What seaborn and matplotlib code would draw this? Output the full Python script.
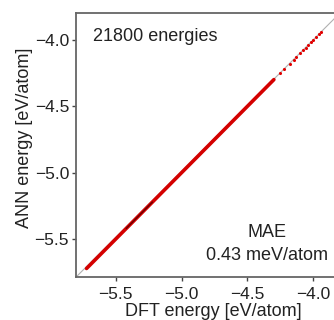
import matplotlib
matplotlib.use("Agg")
import matplotlib.pyplot as plt
import pandas as pd
import seaborn as sns

# energies (eV/atom); dense run then sparse tail
dft_energy = [
    -5.72, -5.70, -5.68, -5.66, -5.64, -5.62, -5.60, -5.58, -5.56, -5.54,
    -5.52, -5.50, -5.48, -5.46, -5.44, -5.42, -5.40, -5.38, -5.36, -5.34,
    -5.32, -5.30, -5.28, -5.26, -5.24, -5.22, -5.20, -5.18, -5.16, -5.14,
    -5.12, -5.10, -5.08, -5.06, -5.04, -5.02, -5.00, -4.98, -4.96, -4.94,
    -4.92, -4.90, -4.88, -4.86, -4.84, -4.82, -4.80, -4.78, -4.76, -4.74,
    -4.72, -4.70, -4.68, -4.66, -4.64, -4.62, -4.60, -4.58, -4.56, -4.54,
    -4.52, -4.50, -4.48, -4.46, -4.44, -4.42, -4.40, -4.38, -4.36, -4.34,
    -4.32, -4.30, -4.25, -4.22, -4.18, -4.15, -4.13, -4.10, -4.08, -4.06,
    -4.04, -4.02, -4.00, -3.98, -3.96, -3.94,
]
ann_energy = [
    -5.72, -5.70, -5.68, -5.66, -5.64, -5.62, -5.60, -5.58, -5.56, -5.54,
    -5.52, -5.50, -5.48, -5.46, -5.44, -5.42, -5.40, -5.38, -5.36, -5.34,
    -5.32, -5.30, -5.28, -5.26, -5.24, -5.22, -5.20, -5.18, -5.16, -5.14,
    -5.12, -5.10, -5.08, -5.06, -5.04, -5.02, -5.00, -4.98, -4.96, -4.94,
    -4.92, -4.90, -4.88, -4.86, -4.84, -4.82, -4.80, -4.78, -4.76, -4.74,
    -4.72, -4.70, -4.68, -4.66, -4.64, -4.62, -4.60, -4.58, -4.56, -4.54,
    -4.52, -4.50, -4.48, -4.46, -4.44, -4.42, -4.40, -4.38, -4.36, -4.34,
    -4.32, -4.30, -4.25, -4.22, -4.18, -4.15, -4.13, -4.10, -4.08, -4.06,
    -4.04, -4.02, -4.00, -3.98, -3.96, -3.94,
]
ticks = [-5.5, -5.0, -4.5, -4.0]
n_energies = 21800
mae = 0.43
n_dense = 72  # first points form the continuous dense band

df = pd.DataFrame({"DFT": dft_energy, "ANN": ann_energy})
dense = df.iloc[:n_dense]
tail = df.iloc[n_dense:]

sns.set_style("ticks")
plt.rcParams["font.family"] = ["Liberation Sans", "DejaVu Sans"]

fig = plt.figure(figsize=(3.34, 3.2), dpi=100)
ax = fig.add_axes([0.2275, 0.134, 0.79, 0.825])

ax.plot([0, 1], [0, 1], transform=ax.transAxes, color="#b0b0b0", lw=0.8, zorder=1)
sns.lineplot(data=dense, x="DFT", y="ANN", ax=ax, color="#d40000",
             lw=2.6, sort=False, estimator=None, zorder=2)
sns.lineplot(data=dense.iloc[15:26], x="DFT", y="ANN", ax=ax, color="#5a0000",
             lw=0.8, sort=False, estimator=None, zorder=3)
sns.scatterplot(data=tail, x="DFT", y="ANN", ax=ax, color="#e00000",
                s=5, linewidth=0, zorder=2)

ax.set_xlim(-5.80, -3.80)
ax.set_ylim(-5.785, -3.80)
ax.set_xticks(ticks)
ax.set_yticks(ticks)
ax.tick_params(labelsize=12.5, length=3, width=1, colors="#444444",
               labelcolor="#222222", pad=2)
ax.tick_params(axis="x", pad=4)
for sp in ax.spines.values():
    sp.set_color("#666666")
    sp.set_linewidth(1.3)
    sp.set_visible(True)

ax.set_xlabel("DFT energy [eV/atom]", fontsize=13, color="#222222")
ax.set_ylabel("ANN energy [eV/atom]", fontsize=13, color="#222222")
ax.xaxis.set_label_coords(0.519, -0.098)
ax.yaxis.set_label_coords(-0.163, 0.527)

ax.text(0.065, 0.91, f"{n_energies} energies", transform=ax.transAxes,
        fontsize=13, color="#222222", va="center", ha="left")
ax.text(0.725, 0.17, "MAE", transform=ax.transAxes,
        fontsize=13, color="#222222", va="center", ha="center")
ax.text(0.725, 0.08, f"{mae} meV/atom", transform=ax.transAxes,
        fontsize=13, color="#222222", va="center", ha="center")

fig.savefig("out.png", dpi=100)
